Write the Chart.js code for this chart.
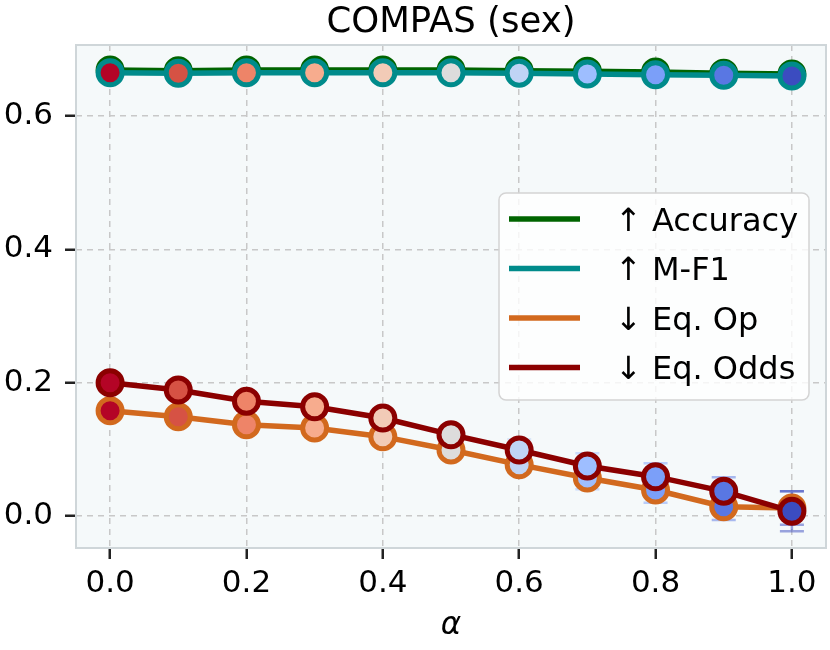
<!DOCTYPE html>
<html lang="en">
<head>
<meta charset="UTF-8">
<title>COMPAS (sex)</title>
<script src="https://cdn.jsdelivr.net/npm/chart.js"></script>
<style>
  html, body { margin: 0; padding: 0; background: #fff; }
</style>
</head>
<body>
<canvas id="chart" width="830" height="650"></canvas>
<script>
// alpha values on the x axis
const alphas = [0.0, 0.1, 0.2, 0.3, 0.4, 0.5, 0.6, 0.7, 0.8, 0.9, 1.0];

// series means
const accuracy = [0.669, 0.668, 0.669, 0.669, 0.669, 0.669, 0.668, 0.667, 0.666, 0.664, 0.663];
const macroF1  = [0.665, 0.664, 0.665, 0.665, 0.665, 0.665, 0.664, 0.663, 0.662, 0.661, 0.660];
const eqOp     = [0.158, 0.149, 0.137, 0.132, 0.119, 0.099, 0.077, 0.057, 0.039, 0.014, 0.012];
const eqOdds   = [0.200, 0.189, 0.172, 0.164, 0.147, 0.122, 0.099, 0.075, 0.059, 0.037, 0.007];

// standard deviations (error bars)
const accuracyStd = [0.003, 0.003, 0.003, 0.003, 0.003, 0.003, 0.003, 0.003, 0.003, 0.003, 0.003];
const macroF1Std  = [0.003, 0.003, 0.003, 0.003, 0.003, 0.003, 0.003, 0.003, 0.003, 0.003, 0.003];
const eqOpStd     = [0.005, 0.005, 0.006, 0.006, 0.007, 0.008, 0.012, 0.017, 0.019, 0.020, 0.025];
const eqOddsStd   = [0.004, 0.004, 0.005, 0.006, 0.006, 0.008, 0.016, 0.019, 0.020, 0.021, 0.030];

const chartTitle = 'COMPAS (sex)';
const seriesNames = ['↑ Accuracy', '↑ M-F1', '↓ Eq. Op', '↓ Eq. Odds'];
const seriesColors = ['#006400', '#008b8b', '#d2691e', '#8b0000'];

// marker fill per alpha (coolwarm reversed)
const alphaColors = ['#b40426', '#d65244', '#ee8468', '#f7ac8e', '#f2cbb7', '#dddcdc',
                     '#c0d4f5', '#9ebeff', '#7b9ff9', '#5977e3', '#3b4cc0'];

const xTicks = [0.0, 0.2, 0.4, 0.6, 0.8, 1.0];
const yTicks = [0.0, 0.2, 0.4, 0.6];

const FONT = "'DejaVu Sans', sans-serif";

function makeSet(i, values, std) {
  return {
    label: seriesNames[i],
    data: alphas.map((a, k) => ({ x: a, y: values[k] })),
    std: std,
    borderColor: seriesColors[i],
    backgroundColor: seriesColors[i],
    borderWidth: 5.5,
    pointRadius: 12,
    pointHoverRadius: 12,
    pointBorderWidth: 5,
    pointBorderColor: seriesColors[i],
    pointBackgroundColor: alphaColors,
    tension: 0,
    order: 4 - i
  };
}

const errorBars = {
  id: 'errorBars',
  beforeDatasetsDraw(chart) {
    const ctx = chart.ctx, xs = chart.scales.x, ys = chart.scales.y;
    ctx.save();
    ctx.lineWidth = 2.5;
    ctx.globalAlpha = 0.5;
    chart.data.datasets.forEach(ds => {
      ds.data.forEach((p, k) => {
        const px = xs.getPixelForValue(p.x);
        const y1 = ys.getPixelForValue(p.y - ds.std[k]);
        const y2 = ys.getPixelForValue(p.y + ds.std[k]);
        ctx.strokeStyle = alphaColors[k];
        ctx.beginPath();
        ctx.moveTo(px, y1); ctx.lineTo(px, y2);
        ctx.moveTo(px - 12, y1); ctx.lineTo(px + 12, y1);
        ctx.moveTo(px - 12, y2); ctx.lineTo(px + 12, y2);
        ctx.stroke();
      });
    });
    ctx.restore();
  }
};

const frame = {
  id: 'frame',
  beforeDraw(chart) {
    const a = chart.chartArea, ctx = chart.ctx;
    ctx.save();
    ctx.fillStyle = '#f5f9fa';
    ctx.fillRect(a.left, a.top, a.right - a.left, a.bottom - a.top);
    ctx.restore();
  },
  afterDraw(chart) {
    const a = chart.chartArea, ctx = chart.ctx;
    ctx.save();
    ctx.strokeStyle = '#cfd6d9';
    ctx.lineWidth = 2;
    ctx.strokeRect(a.left, a.top, a.right - a.left, a.bottom - a.top);

    // title centred over the axes
    ctx.font = '35.5px ' + FONT;
    ctx.fillStyle = '#000';
    ctx.textAlign = 'center';
    ctx.textBaseline = 'alphabetic';
    ctx.fillText(chartTitle, (a.left + a.right) / 2, 32);

    // legend box
    const bx = 499, by = 193, bw = 310, bh = 207;
    ctx.beginPath();
    ctx.roundRect(bx, by, bw, bh, 7);
    ctx.fillStyle = 'rgba(255,255,255,0.8)';
    ctx.fill();
    ctx.strokeStyle = '#d4d4d4';
    ctx.lineWidth = 1.5;
    ctx.stroke();
    ctx.font = '32px ' + FONT;
    ctx.fillStyle = '#000';
    ctx.textAlign = 'left';
    seriesNames.forEach((name, i) => {
      const ry = 219 + i * 49.5;
      ctx.strokeStyle = seriesColors[i];
      ctx.lineWidth = 5.5;
      ctx.beginPath();
      ctx.moveTo(509, ry); ctx.lineTo(580, ry);
      ctx.stroke();
      ctx.fillText(name, 615, ry + 11.5);
    });
    ctx.restore();
  }
};

new Chart(document.getElementById('chart'), {
  type: 'line',
  data: {
    datasets: [
      makeSet(0, accuracy, accuracyStd),
      makeSet(1, macroF1, macroF1Std),
      makeSet(2, eqOp, eqOpStd),
      makeSet(3, eqOdds, eqOddsStd)
    ]
  },
  options: {
    responsive: false,
    animation: false,
    layout: { autoPadding: false, padding: { top: 45, right: 4, bottom: 0, left: 0 } },
    plugins: {
      legend: { display: false },
      tooltip: { enabled: false },
      title: { display: false }
    },
    scales: {
      x: {
        type: 'linear',
        min: -0.05,
        max: 1.05,
        afterBuildTicks: s => { s.ticks = xTicks.map(v => ({ value: v })); },
        afterFit: s => { s.height = 102; s.paddingLeft = 0; s.paddingRight = 0; },
        ticks: {
          autoSkip: false,
          maxRotation: 0,
          padding: 6,
          color: '#000',
          font: { family: FONT, size: 31 },
          callback: v => v.toFixed(1)
        },
        grid: {
          color: '#c8c8c8',
          lineWidth: 1.5,
          drawTicks: true,
          tickLength: 11,
          tickColor: '#222',
          tickWidth: 2.5
        },
        border: { display: false, dash: [6, 5] },
        title: {
          display: true,
          text: 'α',
          color: '#000',
          font: { family: FONT, size: 31, style: 'italic' },
          padding: { top: 0, bottom: 5 }
        }
      },
      y: {
        type: 'linear',
        min: -0.048,
        max: 0.7065,
        afterBuildTicks: s => { s.ticks = yTicks.map(v => ({ value: v })); },
        afterFit: s => { s.width = 76; s.paddingTop = 0; s.paddingBottom = 0; },
        ticks: {
          padding: 12,
          color: '#000',
          font: { family: FONT, size: 31 },
          callback: v => v.toFixed(1)
        },
        grid: {
          color: '#c8c8c8',
          lineWidth: 1.5,
          drawTicks: true,
          tickLength: 11,
          tickColor: '#222',
          tickWidth: 2.5
        },
        border: { display: false, dash: [6, 5] }
      }
    }
  },
  plugins: [frame, errorBars]
});
</script>
</body>
</html>
